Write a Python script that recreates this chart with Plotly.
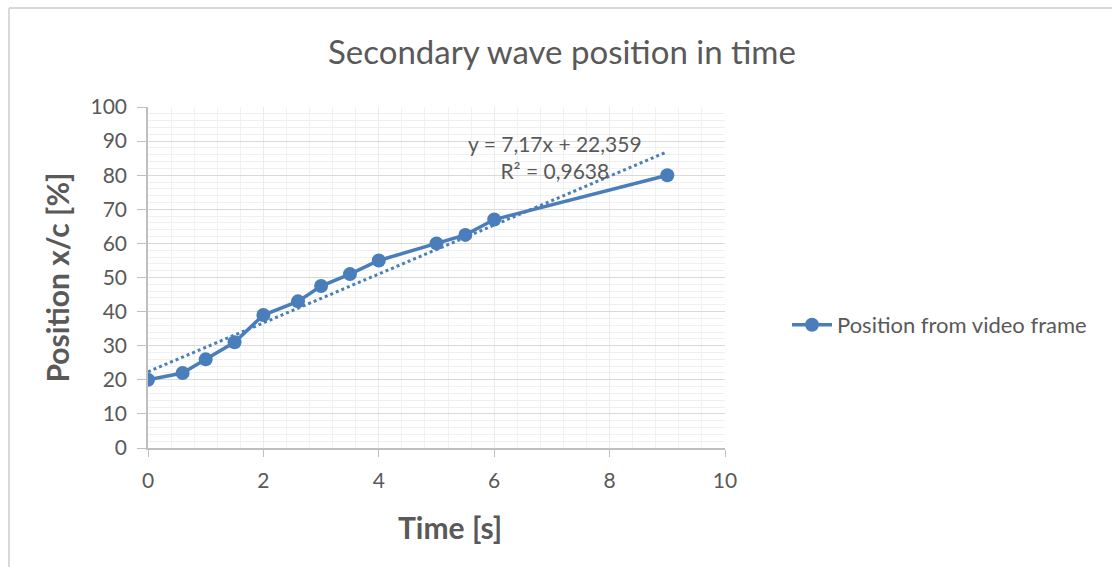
import plotly.graph_objects as go

# ---- data ----
time_s = [0, 0.6, 1, 1.5, 2, 2.6, 3, 3.5, 4, 5, 5.5, 6, 9]
position_pct = [20, 22, 26, 31, 39, 43, 47.5, 51, 55, 60, 62.5, 67, 80]
trend_slope = 7.17
trend_intercept = 22.359
trend_x = [0, 9]
trend_label = "y = 7,17x + 22,359<br>R² = 0,9638"
series_name = "Position from video frame"
chart_title = "Secondary wave position in time"
x_title = "Time [s]"
y_title = "Position x/c [%]"

BLUE = "#4a7ebb"
TXT = "#595959"
FONT = "Lato"

W, H = 1112, 567
L, R, T, B = 148, W - 725, 107, H - 448
PW, PH = W - L - R, H - T - B


def px(xp):
    return (xp - L) / PW


def py(yp):
    return (H - B - yp) / PH


trend_y = [trend_slope * v + trend_intercept for v in trend_x]

fig = go.Figure()
fig.add_trace(go.Scatter(
    x=trend_x, y=trend_y, mode="lines",
    line=dict(color=BLUE, width=3, dash="dot"),
    showlegend=False, hoverinfo="skip",
))
fig.add_trace(go.Scatter(
    x=time_s, y=position_pct, mode="lines+markers", name=series_name,
    line=dict(color=BLUE, width=3.5),
    marker=dict(color=BLUE, size=14),
))

fig.update_layout(
    width=W, height=H,
    margin=dict(l=L, r=R, t=T, b=B),
    paper_bgcolor="white", plot_bgcolor="white",
    font=dict(family=FONT, color=TXT, size=21),
    title=dict(text=chart_title, x=562 / W, xanchor="center",
               y=1 - 52 / H, yanchor="middle", yref="container",
               font=dict(size=33, color=TXT, family=FONT)),
    legend=dict(x=px(787), y=py(325), xanchor="left", yanchor="middle",
                font=dict(size=22, color=TXT, family=FONT),
                bgcolor="rgba(0,0,0,0)", itemwidth=40),
    xaxis=dict(
        range=[0, 10], dtick=2, tick0=0,
        showgrid=True, gridcolor="#ececec", gridwidth=1,
        minor=dict(dtick=0.4, showgrid=True, gridcolor="#f2f2f2", gridwidth=1),
        showline=True, linecolor="#bfbfbf", linewidth=1.5,
        ticks="outside", ticklen=7, tickcolor="#bfbfbf",
        ticklabelstandoff=6,
        zeroline=False,
        tickfont=dict(size=21, color=TXT),
    ),
    yaxis=dict(
        range=[0, 100], dtick=10, tick0=0,
        showgrid=True, gridcolor="#d9d9d9", gridwidth=1,
        minor=dict(dtick=2, showgrid=True, gridcolor="#f0f0f0", gridwidth=1),
        showline=True, linecolor="#bfbfbf", linewidth=1.5,
        ticks="outside", ticklen=9, tickcolor="#bfbfbf",
        ticklabelstandoff=6,
        zeroline=False,
        tickfont=dict(size=21, color=TXT),
        title=dict(text="<b>" + y_title + "</b>", font=dict(size=30, color=TXT), standoff=12),
    ),
)

# x-axis title (placed as in the reference, slightly right of plot centre)
fig.add_annotation(
    x=px(450), y=py(527), xref="paper", yref="paper", text="<b>" + x_title + "</b>",
    showarrow=False, xanchor="center", yanchor="middle",
    font=dict(size=30, color=TXT, family=FONT),
)

fig.add_annotation(
    x=7.05, y=85.3, xref="x", yref="y", text=trend_label, showarrow=False,
    align="center", font=dict(size=21, color=TXT, family=FONT),
)

# outer chart border (left and top visible)
fig.add_shape(type="line", xref="paper", yref="paper",
              x0=px(9), x1=px(9), y0=py(8), y1=py(H + 5),
              line=dict(color="#d9d9d9", width=2))
fig.add_shape(type="line", xref="paper", yref="paper",
              x0=px(9), x1=px(W + 5), y0=py(8), y1=py(8),
              line=dict(color="#d9d9d9", width=2))

fig.write_html("out.html")
